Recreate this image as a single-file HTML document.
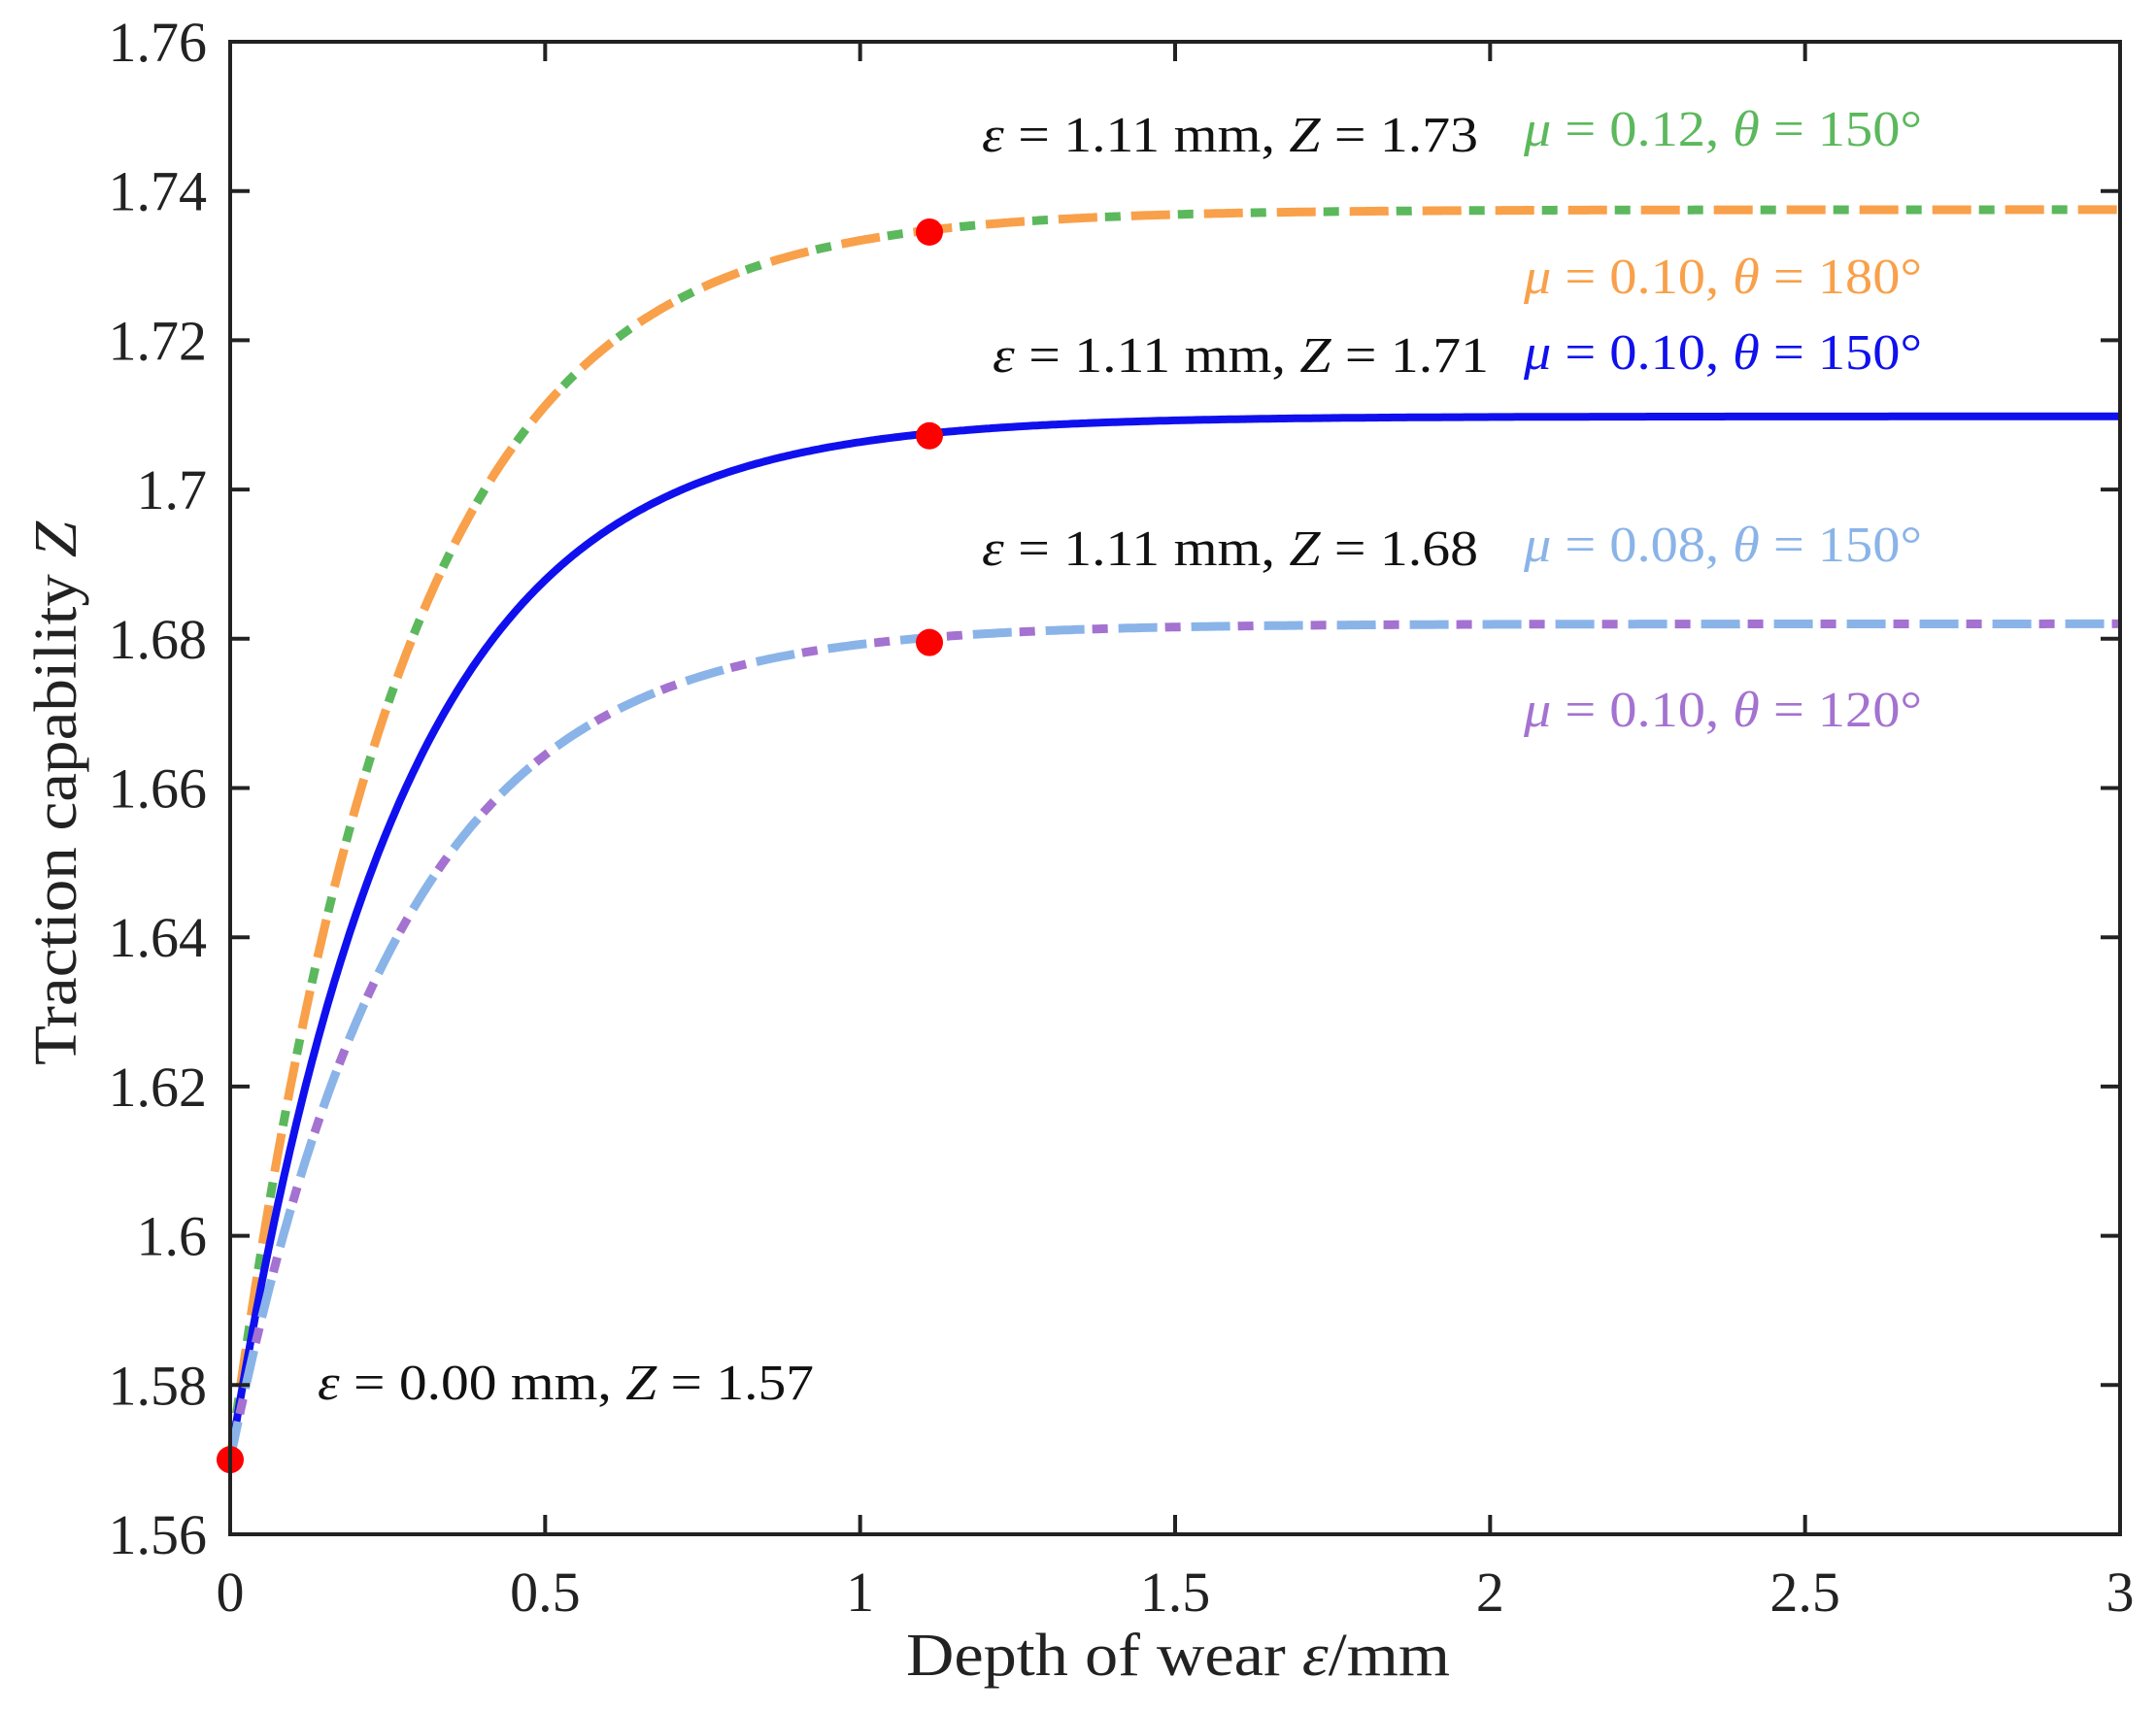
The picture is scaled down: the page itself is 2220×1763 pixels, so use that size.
<!DOCTYPE html>
<html><head><meta charset="utf-8"><style>
html,body{margin:0;padding:0;background:#fff;}
svg{display:block;}
text{font-family:"Liberation Serif","DejaVu Serif",serif;}
</style></head><body>
<svg id="s" width="2220" height="1763" viewBox="0 0 2220 1763" xmlns="http://www.w3.org/2000/svg">
<g id="curves"></g>
<g id="axes" stroke="#222" stroke-width="4" fill="none"></g>
<g id="ticklabels" font-size="58" fill="#222"></g>
<g font-size="52" font-style="normal">
<text x="1011" y="156" fill="#111" textLength="511" lengthAdjust="spacingAndGlyphs"><tspan font-style="italic">ε</tspan> = 1.11 mm,  <tspan font-style="italic">Z</tspan> = 1.73</text>
<text x="1569" y="150" fill="#5cb85c" textLength="410" lengthAdjust="spacingAndGlyphs"><tspan font-style="italic">μ</tspan> = 0.12,  <tspan font-style="italic">θ</tspan> = 150°</text>
<text x="1569" y="302" fill="#f9a04a" textLength="410" lengthAdjust="spacingAndGlyphs"><tspan font-style="italic">μ</tspan> = 0.10,  <tspan font-style="italic">θ</tspan> = 180°</text>
<text x="1022" y="383" fill="#111" textLength="511" lengthAdjust="spacingAndGlyphs"><tspan font-style="italic">ε</tspan> = 1.11 mm,  <tspan font-style="italic">Z</tspan> = 1.71</text>
<text x="1569" y="380" fill="#1010ee" textLength="410" lengthAdjust="spacingAndGlyphs"><tspan font-style="italic">μ</tspan> = 0.10,  <tspan font-style="italic">θ</tspan> = 150°</text>
<text x="1011" y="582" fill="#111" textLength="511" lengthAdjust="spacingAndGlyphs"><tspan font-style="italic">ε</tspan> = 1.11 mm,  <tspan font-style="italic">Z</tspan> = 1.68</text>
<text x="1569" y="578" fill="#8ab4e8" textLength="410" lengthAdjust="spacingAndGlyphs"><tspan font-style="italic">μ</tspan> = 0.08,  <tspan font-style="italic">θ</tspan> = 150°</text>
<text x="1569" y="748" fill="#a472d0" textLength="410" lengthAdjust="spacingAndGlyphs"><tspan font-style="italic">μ</tspan> = 0.10,  <tspan font-style="italic">θ</tspan> = 120°</text>
<text x="327" y="1441" fill="#111" textLength="511" lengthAdjust="spacingAndGlyphs"><tspan font-style="italic">ε</tspan> = 0.00 mm,  <tspan font-style="italic">Z</tspan> = 1.57</text>
</g>
<text x="933" y="1725" font-size="62" fill="#222" textLength="560" lengthAdjust="spacingAndGlyphs">Depth of wear <tspan font-style="italic">ε</tspan>/mm</text>
<text transform="translate(78,817) rotate(-90)" font-size="62" text-anchor="middle" fill="#222" textLength="560" lengthAdjust="spacingAndGlyphs">Traction capability <tspan font-style="italic">Z</tspan></text>
</svg>
<script>
var L=237,R=2183,T=43,B=1580;
function X(v){return L+(R-L)*v/3;}
function Y(v){return B-(B-T)*(v-1.56)/0.2;}
var NS="http://www.w3.org/2000/svg";
function el(p,tag,a){var e=document.createElementNS(NS,tag);for(var k in a)e.setAttribute(k,a[k]);p.appendChild(e);return e;}
function path(zi,tau){var d="";for(var i=0;i<=600;i++){var e=3*i/600;var z=zi-(zi-1.57)*Math.exp(-e/tau);d+=(i?"L":"M")+X(e).toFixed(1)+" "+Y(z).toFixed(1);}return d;}
var c=document.getElementById("curves");
var tau=0.27;
var pO=path(1.7375,tau),pB=path(1.7098,tau),pL=path(1.682,tau);
el(c,"path",{d:pO,stroke:"#5cb85c","stroke-width":9,fill:"none","stroke-dasharray":"16 59","stroke-dashoffset":"-48"});
el(c,"path",{d:pO,stroke:"#f9a04a","stroke-width":9,fill:"none","stroke-dasharray":"40 35"});
el(c,"path",{d:pB,stroke:"#1010ee","stroke-width":8,fill:"none"});
el(c,"path",{d:pL,stroke:"#a472d0","stroke-width":9,fill:"none","stroke-dasharray":"16 59","stroke-dashoffset":"-48"});
el(c,"path",{d:pL,stroke:"#8ab4e8","stroke-width":9,fill:"none","stroke-dasharray":"40 35"});
[[0,1.57],[1.11,1.7345],[1.11,1.7072],[1.11,1.6795]].forEach(function(p){el(c,"circle",{cx:X(p[0]),cy:Y(p[1]),r:14,fill:"#ff0000"});});
var a=document.getElementById("axes");
el(a,"rect",{x:L,y:T,width:R-L,height:B-T});
var tl=document.getElementById("ticklabels");
for(var i=0;i<=6;i++){var v=i*0.5,x=X(v);
 el(a,"line",{x1:x,y1:B,x2:x,y2:B-20});el(a,"line",{x1:x,y1:T,x2:x,y2:T+20});
 var t=el(tl,"text",{x:x,y:1659,"text-anchor":"middle"});t.textContent=(i%2==0)?String(v):v.toFixed(1);}
for(var j=0;j<=10;j++){var v=1.56+j*0.02,y=Y(v);
 el(a,"line",{x1:L,y1:y,x2:L+20,y2:y});el(a,"line",{x1:R,y1:y,x2:R-20,y2:y});
 var s=(Math.round(v*100)/100).toString();
 var t=el(tl,"text",{x:213,y:y+20,"text-anchor":"end"});t.textContent=s;}
</script>
</body></html>
